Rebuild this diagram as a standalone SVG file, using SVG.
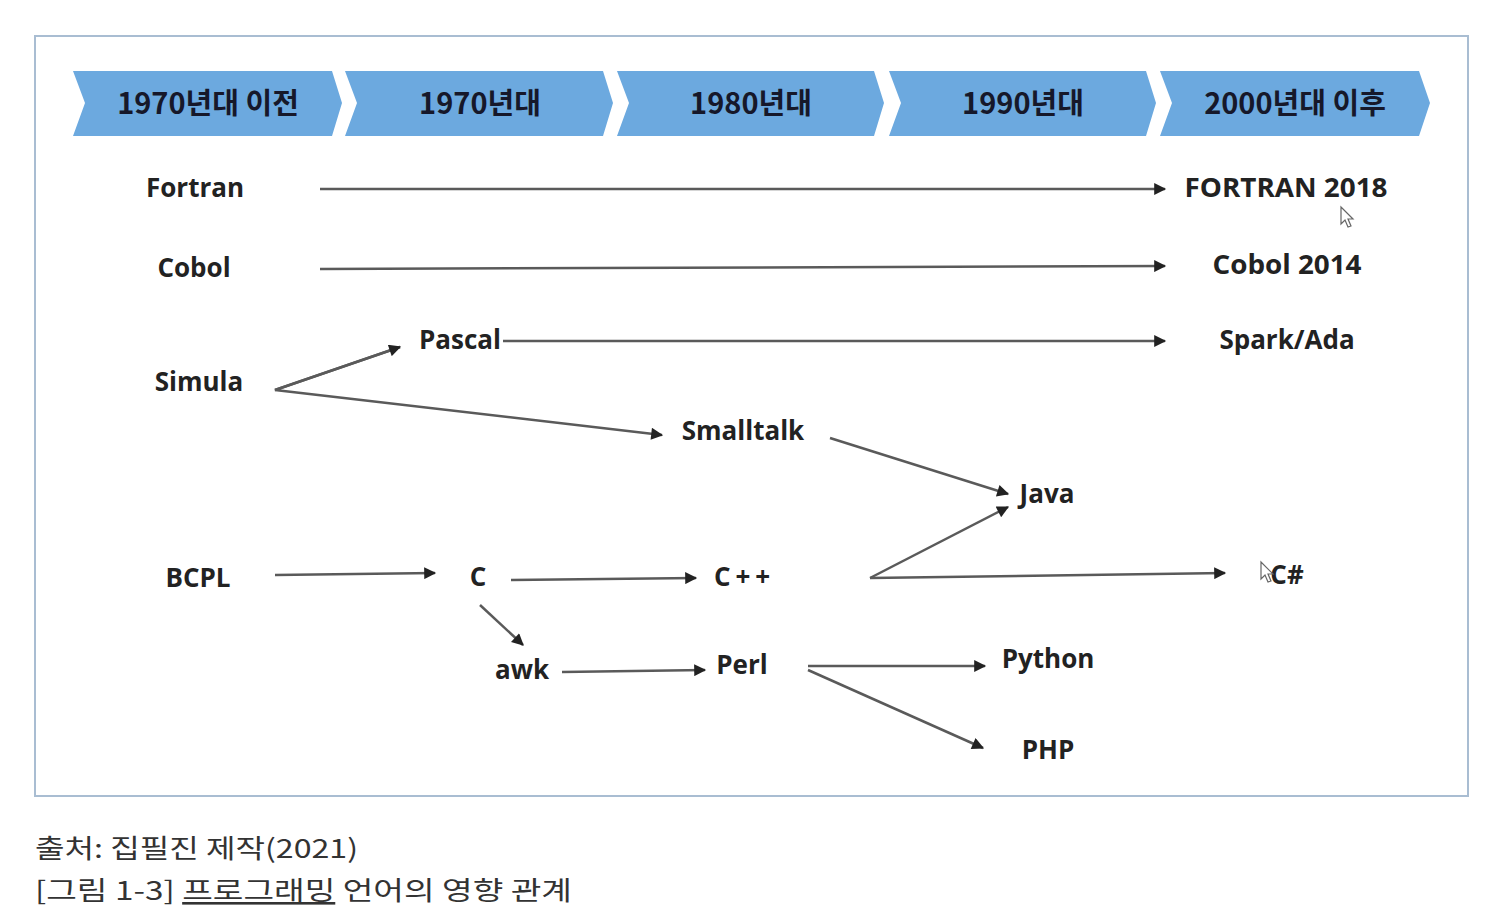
<svg xmlns="http://www.w3.org/2000/svg" width="1510" height="917" viewBox="0 0 1510 917">
<defs>
<style>
.hdr{fill:#6CA9DF}
.ht{font-family:"Noto Sans CJK KR","Noto Sans",sans-serif;font-weight:700;font-size:29px;fill:#16182a;text-anchor:middle}
.nt{font-family:"Open Sans","Noto Sans",sans-serif;font-weight:700;font-size:26px;fill:#222;text-anchor:middle}
.cn{stroke:#5a5a5a;stroke-width:2.5;fill:none;marker-end:url(#ah)}
.cap{font-family:"Noto Sans CJK KR",sans-serif;font-size:26px;fill:#333}
</style>
<marker id="ah" viewBox="0 0 10 10" refX="9" refY="5" markerWidth="5.6" markerHeight="4.8" orient="auto" markerUnits="strokeWidth">
<path d="M0,0 L10,5 L0,10 z" fill="#222"/>
</marker>
</defs>
<rect width="1510" height="917" fill="#fff"/>
<rect x="35" y="36" width="1433" height="760" fill="#fff" stroke="#a9bdd2" stroke-width="2"/>

<g id="timeline">
<g id="era1"><polygon class="hdr" points="73,71 332,71 342,103 332,136 73,136 85,103"/><text class="ht" x="208" y="114">1970년대 이전</text></g>
<g id="era2"><polygon class="hdr" points="345,71 603,71 613,103 603,136 345,136 357,103"/><text class="ht" x="480" y="114">1970년대</text></g>
<g id="era3"><polygon class="hdr" points="617,71 874,71 884,103 874,136 617,136 629,103"/><text class="ht" x="751" y="114">1980년대</text></g>
<g id="era4"><polygon class="hdr" points="889,71 1146,71 1156,103 1146,136 889,136 901,103"/><text class="ht" x="1023" y="114">1990년대</text></g>
<g id="era5"><polygon class="hdr" points="1160,71 1419,71 1430,103 1419,136 1160,136 1172,103"/><text class="ht" x="1295" y="114">2000년대 이후</text></g>
</g>

<g id="connectors">
<line class="cn" x1="320" y1="189" x2="1165" y2="189"/>
<line class="cn" x1="320" y1="269" x2="1165" y2="266"/>
<line class="cn" x1="503" y1="341" x2="1165" y2="341"/>
<polyline class="cn" points="400,347 275,390 662,435"/>
<line class="cn" x1="275" y1="390" x2="400" y2="347"/>
<line class="cn" x1="830" y1="438" x2="1008" y2="494"/>
<line class="cn" x1="870" y1="578" x2="1008" y2="507"/>
<line class="cn" x1="870" y1="578" x2="1225" y2="573"/>
<line class="cn" x1="275" y1="575" x2="435" y2="573"/>
<line class="cn" x1="511" y1="580" x2="696" y2="578"/>
<line class="cn" x1="480" y1="605" x2="523" y2="645"/>
<line class="cn" x1="562" y1="672" x2="705" y2="670"/>
<line class="cn" x1="808" y1="666" x2="985" y2="666"/>
<line class="cn" x1="808" y1="670" x2="983" y2="748"/>
</g>

<g id="n-fortran"><text class="nt" x="195" y="197">Fortran</text></g>
<g id="n-cobol"><text class="nt" x="194" y="277">Cobol</text></g>
<g id="n-simula"><text class="nt" x="199" y="391">Simula</text></g>
<g id="n-bcpl"><text class="nt" x="198" y="587">BCPL</text></g>
<g id="n-pascal"><text class="nt" x="460" y="349">Pascal</text></g>
<g id="n-smalltalk"><text class="nt" x="743" y="440">Smalltalk</text></g>
<g id="n-c"><text class="nt" x="478" y="586">C</text></g>
<g id="n-cpp"><text class="nt" x="742" y="586" textLength="56" lengthAdjust="spacing">C++</text></g>
<g id="n-awk"><text class="nt" x="522" y="679">awk</text></g>
<g id="n-perl"><text class="nt" x="742" y="674">Perl</text></g>
<g id="n-java"><text class="nt" x="1047" y="503">Java</text></g>
<g id="n-python"><text class="nt" x="1048" y="668">Python</text></g>
<g id="n-php"><text class="nt" x="1048" y="759">PHP</text></g>
<g id="n-fortran2018"><text class="nt" x="1286" y="197" textLength="203" lengthAdjust="spacingAndGlyphs">FORTRAN 2018</text></g>
<g id="n-cobol2014"><text class="nt" x="1287" y="274" textLength="149" lengthAdjust="spacingAndGlyphs">Cobol 2014</text></g>
<g id="n-spark"><text class="nt" x="1287" y="349">Spark/Ada</text></g>
<g id="n-csharp"><text class="nt" x="1287" y="584">C#</text></g>

<g id="cursors" fill="#fff" stroke="#666" stroke-width="1.2">
<path d="M1341,207 L1341,224 L1345,220 L1348,227 L1351,226 L1348,219 L1353,219 z"/>
<path d="M1261,562 L1261,579 L1265,575 L1268,582 L1271,581 L1268,574 L1273,574 z"/>
</g>

<g id="caption">
<text class="cap" x="35" y="858" textLength="323" lengthAdjust="spacingAndGlyphs">출처: 집필진 제작(2021)</text>
<text class="cap" x="35" y="900" textLength="537" lengthAdjust="spacingAndGlyphs">[그림 1-3] <tspan text-decoration="underline">프로그래밍</tspan> 언어의 영향 관계</text>
</g>
</svg>
